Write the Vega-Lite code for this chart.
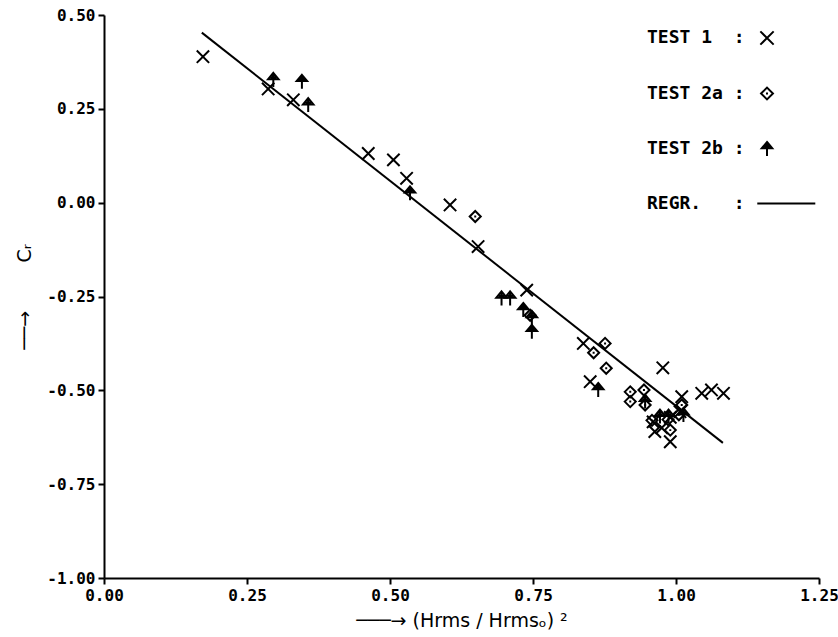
{
  "$schema": "https://vega.github.io/schema/vega-lite/v6.json",
  "autosize": {"type": "none"},
  "width": 715,
  "height": 563,
  "padding": {"left": 104, "top": 15, "right": 19, "bottom": 59},
  "background": "white",
  "config": {
    "view": {"stroke": null},
    "axis": {
      "grid": false,
      "domainColor": "black",
      "domainWidth": 2,
      "tickColor": "black",
      "tickWidth": 2,
      "tickSize": 6,
      "labelFont": "DejaVu Sans Mono",
      "labelFontSize": 16,
      "labelFontWeight": "bold",
      "labelColor": "black",
      "labelFlush": false,
      "labelOverlap": false,
      "titleFont": "DejaVu Sans",
      "titleFontSize": 19,
      "titleFontWeight": "normal",
      "titleColor": "black"
    }
  },
  "datasets": {
    "regr": [
      {"x": 0.171, "y": 0.453},
      {"x": 1.082, "y": -0.64}
    ],
    "points": [
      {"test": "TEST 1", "x": 0.173, "y": 0.389},
      {"test": "TEST 1", "x": 0.287, "y": 0.303},
      {"test": "TEST 1", "x": 0.331, "y": 0.274},
      {"test": "TEST 1", "x": 0.462, "y": 0.131},
      {"test": "TEST 1", "x": 0.506, "y": 0.114},
      {"test": "TEST 1", "x": 0.529, "y": 0.065},
      {"test": "TEST 1", "x": 0.605, "y": -0.006},
      {"test": "TEST 1", "x": 0.654, "y": -0.117},
      {"test": "TEST 1", "x": 0.739, "y": -0.233},
      {"test": "TEST 1", "x": 0.838, "y": -0.375},
      {"test": "TEST 1", "x": 0.85, "y": -0.477},
      {"test": "TEST 1", "x": 0.977, "y": -0.44},
      {"test": "TEST 1", "x": 1.01, "y": -0.517},
      {"test": "TEST 1", "x": 1.045, "y": -0.508},
      {"test": "TEST 1", "x": 1.062, "y": -0.499},
      {"test": "TEST 1", "x": 1.083, "y": -0.508},
      {"test": "TEST 1", "x": 0.96, "y": -0.584},
      {"test": "TEST 1", "x": 0.963, "y": -0.61},
      {"test": "TEST 1", "x": 0.99, "y": -0.637},
      {"test": "TEST 1", "x": 0.99, "y": -0.572},
      {"test": "TEST 1", "x": 1.007, "y": -0.557},
      {"test": "TEST 1", "x": 0.975, "y": -0.6},
      {"test": "TEST 2a", "x": 0.649, "y": -0.037},
      {"test": "TEST 2a", "x": 0.745, "y": -0.3},
      {"test": "TEST 2a", "x": 0.856, "y": -0.4},
      {"test": "TEST 2a", "x": 0.876, "y": -0.375},
      {"test": "TEST 2a", "x": 0.878, "y": -0.441},
      {"test": "TEST 2a", "x": 0.92, "y": -0.504},
      {"test": "TEST 2a", "x": 0.92, "y": -0.53},
      {"test": "TEST 2a", "x": 0.944, "y": -0.499},
      {"test": "TEST 2a", "x": 0.946, "y": -0.539},
      {"test": "TEST 2a", "x": 1.01, "y": -0.539},
      {"test": "TEST 2a", "x": 0.958, "y": -0.58},
      {"test": "TEST 2a", "x": 0.986, "y": -0.578},
      {"test": "TEST 2a", "x": 0.99, "y": -0.606},
      {"test": "TEST 2a", "x": 1.005, "y": -0.565},
      {"test": "TEST 2b", "x": 0.296, "y": 0.327},
      {"test": "TEST 2b", "x": 0.346, "y": 0.322},
      {"test": "TEST 2b", "x": 0.357, "y": 0.26},
      {"test": "TEST 2b", "x": 0.535, "y": 0.025},
      {"test": "TEST 2b", "x": 0.695, "y": -0.255},
      {"test": "TEST 2b", "x": 0.71, "y": -0.255},
      {"test": "TEST 2b", "x": 0.733, "y": -0.286},
      {"test": "TEST 2b", "x": 0.748, "y": -0.307},
      {"test": "TEST 2b", "x": 0.748, "y": -0.344},
      {"test": "TEST 2b", "x": 0.864, "y": -0.499},
      {"test": "TEST 2b", "x": 0.946, "y": -0.53},
      {"test": "TEST 2b", "x": 0.972, "y": -0.57},
      {"test": "TEST 2b", "x": 0.987, "y": -0.57},
      {"test": "TEST 2b", "x": 1.013, "y": -0.566}
    ]
  },
  "layer": [
    {
      "data": {"name": "regr"},
      "mark": {"type": "line", "color": "black", "strokeWidth": 2},
      "encoding": {
        "x": {
          "field": "x", "type": "quantitative",
          "scale": {"domain": [0, 1.25], "nice": false, "zero": false},
          "axis": {
            "values": [0, 0.25, 0.5, 0.75, 1, 1.25],
            "labelExpr": "format(datum.value, '.2f')",
            "labelPadding": 3,
            "title": "───→  (Hrms / Hrmsₒ) ²",
            "titlePadding": 8
          }
        },
        "y": {
          "field": "y", "type": "quantitative",
          "scale": {"domain": [-1, 0.5], "nice": false, "zero": false},
          "axis": {
            "values": [-1, -0.75, -0.5, -0.25, 0, 0.25, 0.5],
            "labelExpr": "replace(format(datum.value, '.2f'), '\u2212', '-')",
            "labelPadding": 3,
            "title": "──→\u00a0\u00a0\u00a0\u00a0\u00a0\u00a0\u00a0\u00a0Cᵣ",
            "titlePadding": 12
          }
        }
      }
    },
    {
      "data": {"name": "points"},
      "mark": {"type": "point", "filled": false, "strokeWidth": 2, "stroke": "black", "fill": "transparent", "opacity": 1},
      "encoding": {
        "x": {"field": "x", "type": "quantitative"},
        "y": {"field": "y", "type": "quantitative"},
        "shape": {
          "field": "test", "type": "nominal",
          "scale": {
            "domain": ["TEST 1", "TEST 2a", "TEST 2b", "REGR."],
            "range": [
              "M-0.95,-0.95L0.95,0.95M-0.95,0.95L0.95,-0.95",
              "M-0.85,0L0,-0.85L0.85,0L0,0.85ZM0,-0.15L0,0.15",
              "M0,-1L0.75,-0.1L-0.75,-0.1ZM0,-0.9L0,1M-0.4,-0.35L0.4,-0.35M-0.2,-0.65L0.2,-0.65",
              "M-1.39,0L6.9,0"
            ]
          },
          "legend": {
            "title": null,
            "orient": "none",
            "legendX": 539,
            "legendY": 14,
            "direction": "vertical",
            "padding": 0,
            "labelFont": "DejaVu Sans Mono",
            "labelFontSize": 18,
            "labelFontWeight": "bold",
            "labelColor": "black",
            "labelExpr": "pad(datum.label, 8, '\u00a0') + ':'",
            "symbolSize": 196,
            "symbolOffset": 115,
            "labelOffset": -129,
            "rowPadding": 34.5,
            "symbolStrokeWidth": 2,
            "symbolStrokeColor": "black",
            "symbolFillColor": "transparent",
            "symbolOpacity": 1
          }
        },
        "size": {
          "condition": [
            {"test": "datum.test === 'TEST 2b'", "value": 196},
            {"test": "datum.test === 'TEST 2a'", "value": 169}
          ],
          "value": 169
        }
      }
    }
  ]
}
